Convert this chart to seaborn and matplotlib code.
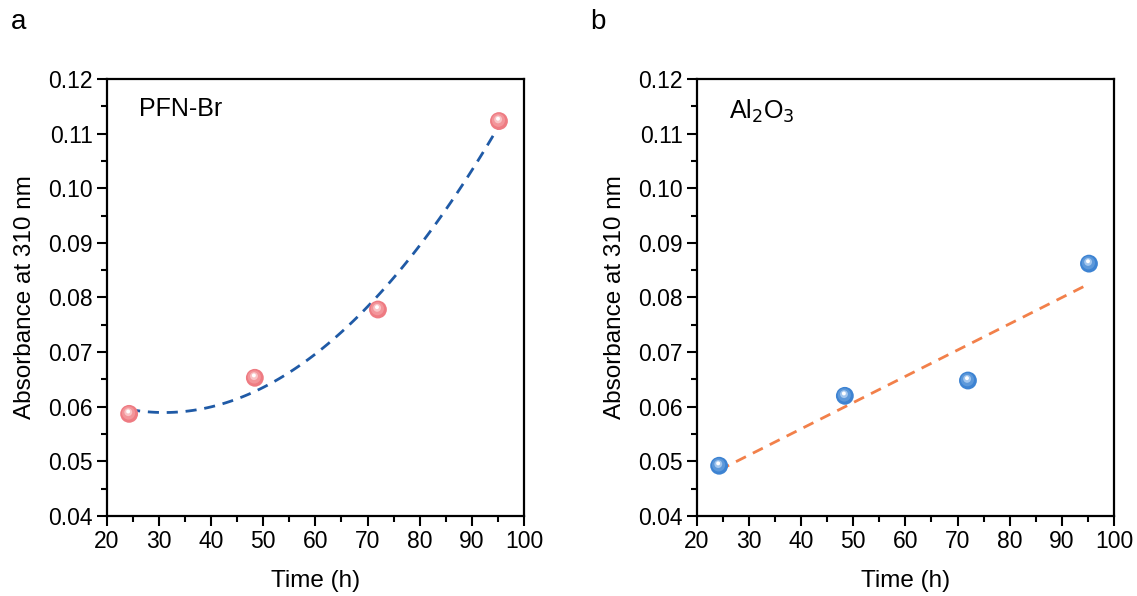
import numpy as np
import pandas as pd
import matplotlib
matplotlib.use("Agg")
import matplotlib.pyplot as plt
import matplotlib.transforms as mtransforms
import seaborn as sns
from matplotlib.ticker import MultipleLocator, FormatStrFormatter

sns.set_theme(style="white")
plt.rcParams['font.family'] = ['Liberation Sans', 'DejaVu Sans']
plt.rcParams['text.color'] = 'black'
plt.rcParams['axes.labelcolor'] = 'black'
plt.rcParams['xtick.color'] = 'black'
plt.rcParams['ytick.color'] = 'black'

time_h = [24.3, 48.4, 72.0, 95.2]
abs_pfn = [0.0587, 0.0653, 0.0778, 0.1123]
abs_al2o3 = [0.0492, 0.0620, 0.0648, 0.0862]
panel_labels = ["a", "b"]
panel_names = ["PFN-Br", "Al$_2$O$_3$"]
x_ticks = [20, 30, 40, 50, 60, 70, 80, 90, 100]
y_ticks = [0.04, 0.05, 0.06, 0.07, 0.08, 0.09, 0.10, 0.11, 0.12]

W, H = 1137, 596
fig = plt.figure(figsize=(W / 100, H / 100), dpi=100)
ax1 = fig.add_axes([106.7 / W, 1 - 516 / H, (524 - 106.7) / W, (516 - 79) / H])
ax2 = fig.add_axes([696.7 / W, 1 - 516 / H, (1114 - 696.7) / W, (516 - 79) / H])

# sphere shading layers: (size, colour, dx_pt, dy_pt)
specs = [
    (ax1, abs_pfn, 2, "#1f5aa6",
     [(165, "#ee7b82", 0, 0), (90, "#f3959a", -0.4, 0.6), (32, "#f9c4c6", -0.6, 1.2), (8, "#ffffff", -0.7, 1.7)]),
    (ax2, abs_al2o3, 1, "#f2804a",
     [(165, "#3d83d2", 0, 0), (90, "#5c98da", -0.4, 0.6), (32, "#a2c6ee", -0.6, 1.2), (8, "#ffffff", -0.7, 1.7)]),
]

for i, (ax, yv, order, lc, layers) in enumerate(specs):
    df = pd.DataFrame({"t": time_h, "a": yv})
    sns.regplot(data=df, x="t", y="a", order=order, ci=None, scatter=False,
                truncate=True, ax=ax,
                line_kws=dict(color=lc, lw=2.0, ls=(0, (4, 2.8))))
    for (sz, col, dx, dy) in layers:
        n_before = len(ax.collections)
        sns.scatterplot(data=df, x="t", y="a", ax=ax, s=sz, color=col,
                        edgecolor="none", zorder=3, linewidth=0)
        coll = ax.collections[n_before]
        coll.set_offset_transform(ax.transData + mtransforms.ScaledTranslation(
            dx / 72, dy / 72, fig.dpi_scale_trans))
    ax.set_xlim(20, 100)
    ax.set_ylim(0.04, 0.12)
    ax.set_xticks(x_ticks)
    ax.set_yticks(y_ticks)
    ax.xaxis.set_minor_locator(MultipleLocator(5))
    ax.yaxis.set_minor_locator(MultipleLocator(0.005))
    ax.yaxis.set_major_formatter(FormatStrFormatter("%.2f"))
    ax.tick_params(axis="both", which="major", direction="out", length=7,
                   width=1.5, labelsize=16.5, color="black", pad=3,
                   bottom=True, left=True, top=False, right=False)
    ax.tick_params(axis="both", which="minor", direction="out", length=4,
                   width=1.5, color="black",
                   bottom=True, left=True, top=False, right=False)
    for sp in ax.spines.values():
        sp.set_linewidth(1.6)
        sp.set_color("black")
    ax.set_xlabel("Time (h)", fontsize=17.5, labelpad=12)
    ax.set_ylabel("Absorbance at 310 nm", fontsize=17.5, labelpad=9)
    ax.text(0.078, 0.958, panel_names[i], transform=ax.transAxes,
            fontsize=18, ha="left", va="top")
    ax.grid(False)

fig.text(11 / W, 1 - 22 / H, panel_labels[0], fontsize=20, ha="left", va="center")
fig.text(590 / W, 1 - 22 / H, panel_labels[1], fontsize=20, ha="left", va="center")

fig.savefig("out.png", dpi=100)
